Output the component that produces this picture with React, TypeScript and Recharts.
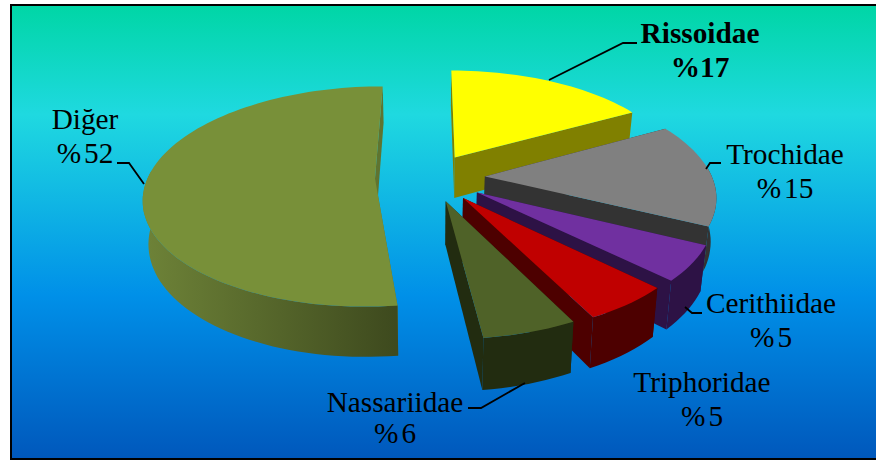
import React from 'react';
import { PieChart, Pie } from 'recharts';

const families = ['Rissoidae', 'Trochidae', 'Cerithiidae', 'Triphoridae', 'Nassariidae', 'Diğer'];
// shares, the labels show them rounded
const percents = [17, 15.2, 5.1, 5.25, 5.5, 51.95];
const explode = [50, 55, 56, 54, 52, 55];
const topColors = ['#ffff00', '#808080', '#7030a0', '#c00000', '#4f6228', '#789039'];
const wallColors = ['#808000', '#333333', '#2d1245', '#4d0000', '#222c10', '#5f7430'];

// label text centres + baselines, leader lines (px)
const labelPos = [
  { x: 700, y1: 43, y2: 77, line: '549,80 623,43 637,43' },
  { x: 785, y1: 164, y2: 198, line: '706,169 710,163 721,163' },
  { x: 771, y1: 313, y2: 347, line: '685,307 692,313 702,313' },
  { x: 702, y1: 392, y2: 426, line: '' },
  { x: 395, y1: 412, y2: 443, line: '525,383 481,408 468,408' },
  { x: 85, y1: 129, y2: 163, line: '144,184 129,163 117,163' },
];

const chartData = families.map((name, i) => ({ name, value: percents[i] }));

const CX = 430;
const CY = 177;
const R = 227;
const DEPTH = 1400; // perspective distance
const TILT = 0.47;
const H = 42; // slice thickness

const project = (x: number, z: number, down = false) => {
  const s = DEPTH / (DEPTH - z);
  const k = down ? 0.98 : 1;
  return [CX + x * s * k, CY + TILT * z * s + (down ? H * s : 0)];
};

const rad = (d: number) => (d * Math.PI) / 180;

const Slice3D = (props: any) => {
  const { startAngle, endAngle, midAngle, outerRadius, index } = props;
  // recharts angles run counter-clockwise from 3 o'clock, here clockwise from 12
  const a0 = 90 - startAngle;
  const a1 = 90 - endAngle;
  const mid = 90 - midAngle;
  const e = explode[index];
  const ex = e * Math.sin(rad(mid));
  const ez = -e * Math.cos(rad(mid));

  const at = (a: number, r: number, down = false) =>
    project(r * Math.sin(rad(a)) + ex, -r * Math.cos(rad(a)) + ez, down);

  const steps = Math.max(8, Math.round((a1 - a0) / 2));
  const arc: number[] = [];
  for (let i = 0; i <= steps; i++) arc.push(a0 + ((a1 - a0) * i) / steps);

  const str = (pts: number[][]) => pts.map((p) => `${p[0].toFixed(1)},${p[1].toFixed(1)}`).join(' ');
  const topArc = arc.map((a) => at(a, outerRadius));
  // only the part of the rim that faces the viewer
  const rimArc = arc.filter((a) => a >= 85 && a <= 275);
  const rimTop = rimArc.map((a) => at(a, outerRadius));
  const rimLow = rimArc.map((a) => at(a, outerRadius, true)).reverse();
  const apex = at(0, 0);
  const apexLow = at(0, 0, true);

  const wall = wallColors[index];
  const isOther = index === percents.length - 1;
  const gradId = `rim-${index}`;

  return (
    <g>
      {isOther && (
        <defs>
          <linearGradient id={gradId} gradientUnits="userSpaceOnUse" x1="143" y1="0" x2="395" y2="0">
            <stop offset="0" stopColor="#6e8338" />
            <stop offset="1" stopColor="#3e4a1e" />
          </linearGradient>
        </defs>
      )}
      <polygon points={str([apex, at(a0, outerRadius), at(a0, outerRadius, true), apexLow])} fill={wall} />
      <polygon points={str([apex, at(a1, outerRadius), at(a1, outerRadius, true), apexLow])} fill={wall} />
      {rimArc.length > 1 && (
        <polygon points={str([...rimTop, ...rimLow])} fill={isOther ? `url(#${gradId})` : wall} />
      )}
      <polygon points={str([apex, ...topArc])} fill={topColors[index]} />
    </g>
  );
};

const SliceLabel = (props: any) => {
  const { index } = props;
  const pos = labelPos[index];
  const bold = index === 0;
  return (
    <g fontFamily="'Liberation Serif', serif" fontSize={29.3} fill="#000" fontWeight={bold ? 700 : 400}>
      {pos.line && <polyline points={pos.line} fill="none" stroke="#000" strokeWidth={1.8} />}
      <text x={pos.x} y={pos.y1} textAnchor="middle">{families[index]}</text>
      <text x={pos.x} y={pos.y2} textAnchor="middle">
        <tspan>%</tspan>
        <tspan dx={bold ? 0 : 3}>{Math.round(percents[index])}</tspan>
      </text>
    </g>
  );
};

export default function App() {
  return (
    <div style={{ position: 'absolute', left: 0, top: 0, width: 876, height: 460, background: '#fff', overflow: 'hidden' }}>
      <div style={{
        position: 'absolute',
        left: 10,
        top: 4,
        width: 880,
        height: 452,
        border: '2px solid #000',
        background: 'linear-gradient(180deg, #00d6a6 0%, #1fd9e0 24%, #0090e8 64%, #0058bc 100%)',
      }} />
      <div style={{ position: 'absolute', left: 0, top: 0 }}>
        <PieChart width={876} height={460}>
          <Pie
            data={chartData}
            dataKey="value"
            nameKey="name"
            cx={CX}
            cy={CY}
            outerRadius={R}
            startAngle={90}
            endAngle={-270}
            stroke="none"
            shape={Slice3D}
            label={SliceLabel}
            labelLine={false}
            isAnimationActive={false}
          />
        </PieChart>
      </div>
    </div>
  );
}
